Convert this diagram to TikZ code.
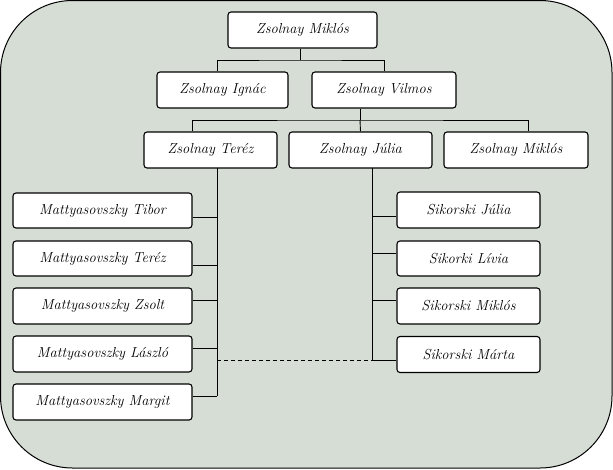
\documentclass[tikz,border=0pt]{standalone}
\usetikzlibrary{calc}
\definecolor{bgc}{RGB}{213,221,212}
\tikzset{
  pbox/.style={draw=black, line width=1.1pt, fill=white, rounded corners=3pt,
    minimum height=36pt, inner sep=0pt, font=\fontsize{14.5}{16}\selectfont\itshape},
  link/.style={draw=black, line width=0.9pt},
}
\begin{document}
\begin{tikzpicture}[x=1pt,y=-1pt]
\useasboundingbox (0,0) rectangle (613,469);
\draw[fill=bgc, line width=1pt, rounded corners=72pt] (0.5,0.5) rectangle (612,468);

\node[pbox, minimum width=149pt] (m1) at (302.5,30) {Zsolnay Miklós};
\node[pbox, minimum width=131pt] (ig) at (222.5,90) {Zsolnay Ignác};
\node[pbox, minimum width=144pt] (vil) at (384,90) {Zsolnay Vilmos};
\node[pbox, minimum width=133pt] (ter) at (210.5,150) {Zsolnay Teréz};
\node[pbox, minimum width=143pt] (jul) at (360.5,150) {Zsolnay Júlia};
\node[pbox, minimum width=144pt] (m2) at (516,150) {Zsolnay Miklós};

\node[pbox, minimum width=179pt, minimum height=35pt] (l1) at (102.5,210.5) {Mattyasovszky Tibor};
\node[pbox, minimum width=179pt, minimum height=35pt] (l2) at (102.5,258.5) {Mattyasovszky Teréz};
\node[pbox, minimum width=179pt] (l3) at (102.5,306) {Mattyasovszky Zsolt};
\node[pbox, minimum width=179pt] (l4) at (102.5,354) {Mattyasovszky László};
\node[pbox, minimum width=179pt] (l5) at (102.5,402) {Mattyasovszky Margit};

\node[pbox, minimum width=143pt] (r1) at (468.5,210) {Sikorski Júlia};
\node[pbox, minimum width=143pt, minimum height=35pt] (r2) at (468.5,258.5) {Sikorki Lívia};
\node[pbox, minimum width=143pt] (r3) at (468.5,306) {Sikorski Miklós};
\node[pbox, minimum width=143pt] (r4) at (468.5,354.5) {Sikorski Márta};

% generation 1 -> 2
\coordinate (b1) at (300,60);
\path[link] ([xshift=-2.5pt]m1.south) -- (b1);
\path[link] ([xshift=-5.5pt]ig.north) |- (b1) -| (vil.north);
% generation 2 -> 3
\coordinate (b2) at (360,120);
\path[link] ([xshift=-24pt]vil.south) -- (b2);
\path[link] ([xshift=-18.5pt]ter.north) |- (b2) -| ([xshift=12pt]m2.north);
\path[link] (b2) -- (jul.north);
% left children
\coordinate (lt) at (217,168);
\coordinate (lb) at (217,396);
\path[link] (lt) -- (lb);
\path[link] ([yshift=-6.5pt]l1.east) -- ([yshift=-6.5pt]l1.east -| lt);
\path[link] ([yshift=-6.5pt]l2.east) -- ([yshift=-6.5pt]l2.east -| lt);
\path[link] ([yshift=6pt]l3.east) -- ([yshift=6pt]l3.east -| lt);
\path[link] ([yshift=6pt]l4.east) -- ([yshift=6pt]l4.east -| lt);
\path[link] (l5.east |- lb) -- (lb);
% right children
\coordinate (rt) at (372,168);
\coordinate (rb) at (372,360);
\path[link] (rt) -- (rb);
\path[link] ([yshift=-6pt]r1.west) -- ([yshift=-6pt]r1.west -| rt);
\path[link] ([yshift=5.5pt]r2.west) -- ([yshift=5.5pt]r2.west -| rt);
\path[link] ([yshift=6pt]r3.west) -- ([yshift=6pt]r3.west -| rt);
\path[link] (r4.west |- rb) -- (rb);
% dashed link
\coordinate (dl) at (217,360);
\path[link, dashed, dash pattern=on 4pt off 3pt] (dl) -- (rb);
\end{tikzpicture}
\end{document}
